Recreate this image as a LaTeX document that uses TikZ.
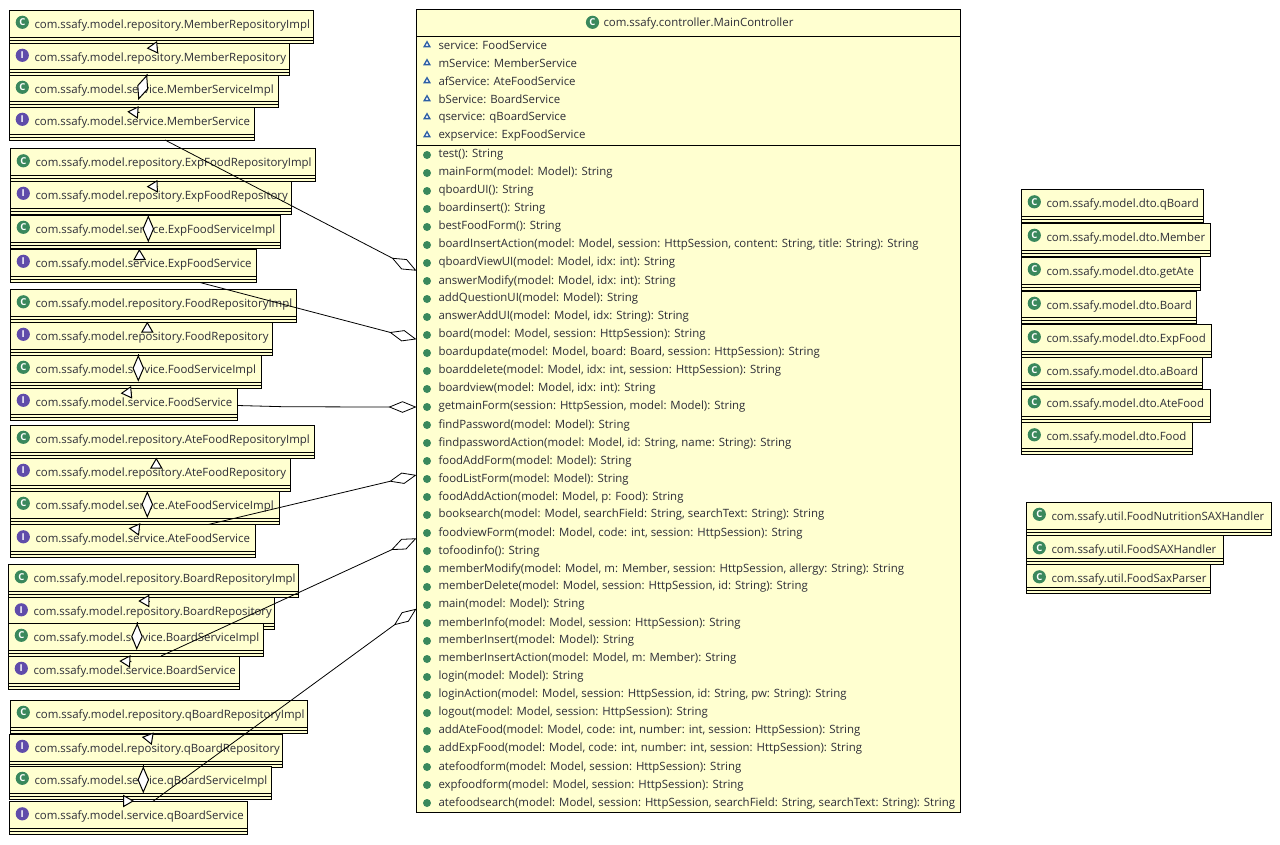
\documentclass[tikz,border=0pt]{standalone}
\usepackage{fontspec}
\setmainfont{Open Sans}
\usetikzlibrary{arrows.meta,shapes.geometric,positioning}
\definecolor{boxfill}{RGB}{255,255,208}
\definecolor{iconC}{RGB}{58,136,92}
\definecolor{iconI}{RGB}{96,76,170}
\definecolor{iconA}{RGB}{45,95,165}
\definecolor{labeltext}{RGB}{45,45,55}
\newcommand{\umlfont}{\fontsize{11.42}{14}\selectfont}

\begin{document}
\begin{tikzpicture}[x=1pt,y=-1pt,line width=1pt,
    classbox/.style={rectangle,draw=black,fill=boxfill,anchor=north west,inner sep=0pt,outer sep=0pt,text=labeltext,font=\umlfont},
    classicon/.style={circle,inner sep=0pt,minimum size=13.2pt,text=white,font=\fontsize{9.5}{9.5}\selectfont\bfseries},
    rowtext/.style={anchor=west,inner sep=0pt,text=labeltext,font=\umlfont},
    attricon/.style={regular polygon,regular polygon sides=3,draw=iconA,fill=white,line width=1.3pt,inner sep=0pt,minimum size=6.5pt},
    methodicon/.style={circle,fill=iconC,inner sep=0pt,minimum size=8pt},
    realizes/.style={-{Triangle[length=11pt,width=12.5pt,fill=white]}},
    holds/.style={-{Diamond[length=27pt,width=11.5pt,fill=white]}},
    aggregates/.style={-{Diamond[length=28pt,width=11.5pt,fill=white]},line width=.8pt}]

\useasboundingbox (0,0) rectangle (1280,844);

% main controller
\node[classbox,minimum width=544pt,minimum height=802.5pt] (MainController) at (416.5,9.5) {};
\node[rowtext] (MainTitle) at (603,23.2) {com.ssafy.controller.MainController};
\node[classicon,fill=iconC] (MainIcon) at (592.5,22.3) {C};
\draw ([yshift=-27]MainController.north west) -- ([yshift=-27]MainController.north east);
\draw ([yshift=-135.5]MainController.north west) -- ([yshift=-135.5]MainController.north east);

\foreach \txt [count=\i from 0] in {service: FoodService,mService: MemberService,afService: AteFoodService,bService: BoardService,qservice: qBoardService,expservice: ExpFoodService}{
    \node[attricon] (attrIcon\i) at (427,45+18*\i) {};
    \node[rowtext] (attr\i) at (438,45.2+18*\i) {\txt};
}

\foreach \txt [count=\i from 0] in {test(): String,mainForm(model: Model): String,qboardUI(): String,boardinsert(): String,bestFoodForm(): String,
    {boardInsertAction(model: Model, session: HttpSession, content: String, title: String): String},
    {qboardViewUI(model: Model, idx: int): String},{answerModify(model: Model, idx: int): String},addQuestionUI(model: Model): String,
    {answerAddUI(model: Model, idx: String): String},{board(model: Model, session: HttpSession): String},
    {boardupdate(model: Model, board: Board, session: HttpSession): String},{boarddelete(model: Model, idx: int, session: HttpSession): String},
    {boardview(model: Model, idx: int): String},{getmainForm(session: HttpSession, model: Model): String},findPassword(model: Model): String,
    {findpasswordAction(model: Model, id: String, name: String): String},foodAddForm(model: Model): String,foodListForm(model: Model): String,
    {foodAddAction(model: Model, p: Food): String},{booksearch(model: Model, searchField: String, searchText: String): String},
    {foodviewForm(model: Model, code: int, session: HttpSession): String},tofoodinfo(): String,
    {memberModify(model: Model, m: Member, session: HttpSession, allergy: String): String},{memberDelete(model: Model, session: HttpSession, id: String): String},
    main(model: Model): String,{memberInfo(model: Model, session: HttpSession): String},memberInsert(model: Model): String,
    {memberInsertAction(model: Model, m: Member): String},login(model: Model): String,{loginAction(model: Model, session: HttpSession, id: String, pw: String): String},
    {logout(model: Model, session: HttpSession): String},{addAteFood(model: Model, code: int, number: int, session: HttpSession): String},
    {addExpFood(model: Model, code: int, number: int, session: HttpSession): String},{atefoodform(model: Model, session: HttpSession): String},
    {expfoodform(model: Model, session: HttpSession): String},{atefoodsearch(model: Model, session: HttpSession, searchField: String, searchText: String): String}}{
    \node[methodicon] (methodIcon\i) at (427,155+18*\i) {};
    \node[rowtext] (method\i) at (438,155+18*\i) {\txt};
}

% small classes, stacked
\foreach \nx/\xx/\yy/\ww/\hh/\kind/\txt [evaluate=\hh as \dd using \hh-18.2] in {
    MemberRepositoryImpl/9.5/10/303.5/33/C/com.ssafy.model.repository.MemberRepositoryImpl,
    MemberRepository/9.5/43/279.5/32/I/com.ssafy.model.repository.MemberRepository,
    MemberServiceImpl/9.5/75/268.5/32/C/com.ssafy.model.service.MemberServiceImpl,
    MemberService/9.5/107/244.5/33/I/com.ssafy.model.service.MemberService,
    ExpFoodRepositoryImpl/10.5/148.5/305/32.5/C/com.ssafy.model.repository.ExpFoodRepositoryImpl,
    ExpFoodRepository/10.5/181/280.5/33/I/com.ssafy.model.repository.ExpFoodRepository,
    ExpFoodServiceImpl/10.5/215/269.5/33.5/C/com.ssafy.model.service.ExpFoodServiceImpl,
    ExpFoodService/10.5/249/245.5/33/I/com.ssafy.model.service.ExpFoodService,
    FoodRepositoryImpl/10.5/289.5/285.5/32.5/C/com.ssafy.model.repository.FoodRepositoryImpl,
    FoodRepository/10.5/322/261.5/33/I/com.ssafy.model.repository.FoodRepository,
    FoodServiceImpl/10.5/355/250.5/33/C/com.ssafy.model.service.FoodServiceImpl,
    FoodService/10.5/388/227/32.5/I/com.ssafy.model.service.FoodService,
    AteFoodRepositoryImpl/10.5/425/303.5/33/C/com.ssafy.model.repository.AteFoodRepositoryImpl,
    AteFoodRepository/10.5/458/280/33/I/com.ssafy.model.repository.AteFoodRepository,
    AteFoodServiceImpl/10.5/491/268.5/33.5/C/com.ssafy.model.service.AteFoodServiceImpl,
    AteFoodService/10.5/524.5/245/33/I/com.ssafy.model.service.AteFoodService,
    BoardRepositoryImpl/8.5/564.5/289.5/33/C/com.ssafy.model.repository.BoardRepositoryImpl,
    BoardRepository/8.5/597.5/265.5/32/I/com.ssafy.model.repository.BoardRepository,
    BoardServiceImpl/8.5/623/254.5/33/C/com.ssafy.model.service.BoardServiceImpl,
    BoardService/8.5/656/230.5/33/I/com.ssafy.model.service.BoardService,
    qBoardRepositoryImpl/10.5/700/296.5/33/C/com.ssafy.model.repository.qBoardRepositoryImpl,
    qBoardRepository/9.5/734/272.5/33/I/com.ssafy.model.repository.qBoardRepository,
    qBoardServiceImpl/9.5/766/261.5/33/C/com.ssafy.model.service.qBoardServiceImpl,
    qBoardService/9.5/801.5/237.5/32.5/I/com.ssafy.model.service.qBoardService,
    qBoardDto/1021.5/189.5/182/33/C/com.ssafy.model.dto.qBoard,
    MemberDto/1021.5/223/189/33.5/C/com.ssafy.model.dto.Member,
    getAteDto/1021.5/257/179/33.5/C/com.ssafy.model.dto.getAte,
    BoardDto/1021.5/291/175/32.5/C/com.ssafy.model.dto.Board,
    ExpFoodDto/1021.5/324.5/190/33/C/com.ssafy.model.dto.ExpFood,
    aBoardDto/1021.5/357.5/181/31/C/com.ssafy.model.dto.aBoard,
    AteFoodDto/1021.5/389.5/189/33/C/com.ssafy.model.dto.AteFood,
    FoodDto/1021.5/422.5/171/32/C/com.ssafy.model.dto.Food,
    NutritionHandler/1026.5/502/245/33.5/C/com.ssafy.util.FoodNutritionSAXHandler,
    SaxHandler/1026.5/535.5/197/29/C/com.ssafy.util.FoodSAXHandler,
    SaxParser/1026.5/564.5/184/28.5/C/com.ssafy.util.FoodSaxParser}{
    \node[classbox,text height=18.2pt,text depth=\dd pt] (\nx) at (\xx,\yy) {\makebox[\ww pt][l]{\hspace{25pt}\txt}};
    \node[classicon,fill=icon\kind] (\nx-icon) at ([shift={(12.8,12.3)}]\nx.north west) {\kind};
    \draw ([yshift=6]\nx.south west) -- ([yshift=6]\nx.south east);
    \draw ([yshift=3]\nx.south west) -- ([yshift=3]\nx.south east);
}

% inside each group
\foreach \s/\d/\a/\b/\c/\e in {
    MemberRepositoryImpl/MemberRepository/148.5/37.3/137.2/5.3,
    MemberServiceImpl/MemberService/130/37.5/117.8/4.7,
    ExpFoodRepositoryImpl/ExpFoodRepository/147.5/37.8/136.2/5.7,
    ExpFoodServiceImpl/ExpFoodService/129/43.3/128.8/0,
    FoodRepositoryImpl/FoodRepository/136.8/41.5/136.8/-0.3,
    FoodServiceImpl/FoodService/121.5/37.3/110.2/5.3,
    AteFoodRepositoryImpl/AteFoodRepository/145.8/42.3/145.8/-0.3,
    AteFoodServiceImpl/AteFoodService/129.5/38.5/118.2/3.8,
    BoardRepositoryImpl/BoardRepository/141.2/36.5/129.8/3.5,
    BoardServiceImpl/BoardService/122.8/38.5/110.8/5,
    qBoardRepositoryImpl/qBoardRepository/137/34/142.2/11,
    qBoardServiceImpl/qBoardService/114.5/35/124.5/-0.5}{
    \draw[realizes] ([shift={(\a,\b)}]\s.north west) -- ([shift={(\c,\e)}]\d.north west);
}

\foreach \s/\d/\a/\b/\c/\e in {
    MemberRepository/MemberServiceImpl/137.8/31/128.8/25,
    ExpFoodRepository/ExpFoodServiceImpl/137.8/34/137.8/27.3,
    FoodRepository/FoodServiceImpl/127.8/32.3/127.8/26.7,
    AteFoodRepository/AteFoodServiceImpl/136.8/32.7/136.8/27,
    BoardRepository/BoardServiceImpl/128.8/24.5/128.2/27,
    qBoardRepository/qBoardServiceImpl/133.8/31.3/133.8/27.3}{
    \draw[holds] ([shift={(\a,\b)}]\s.north west) -- ([shift={(\c,\e)}]\d.north west);
}

% services to the controller
\foreach \s/\a/\b/\e in {MemberService/155.5/33/261.2,ExpFoodService/189.5/33.5/329.8,AteFoodService/197.8/0/465.5,BoardService/152.5/0/528.8,qBoardService/143.2/0/599.2}{
    \draw[aggregates] ([shift={(\a,\b)}]\s.north west) -- ([yshift=-\e]MainController.north west);
}
\draw[aggregates] ([shift={(227,17.5)}]FoodService.north west) -- ++(45.5,1.2) -- ++(89,0.3) -- ([yshift=-397.5]MainController.north west);

\end{tikzpicture}
\end{document}
